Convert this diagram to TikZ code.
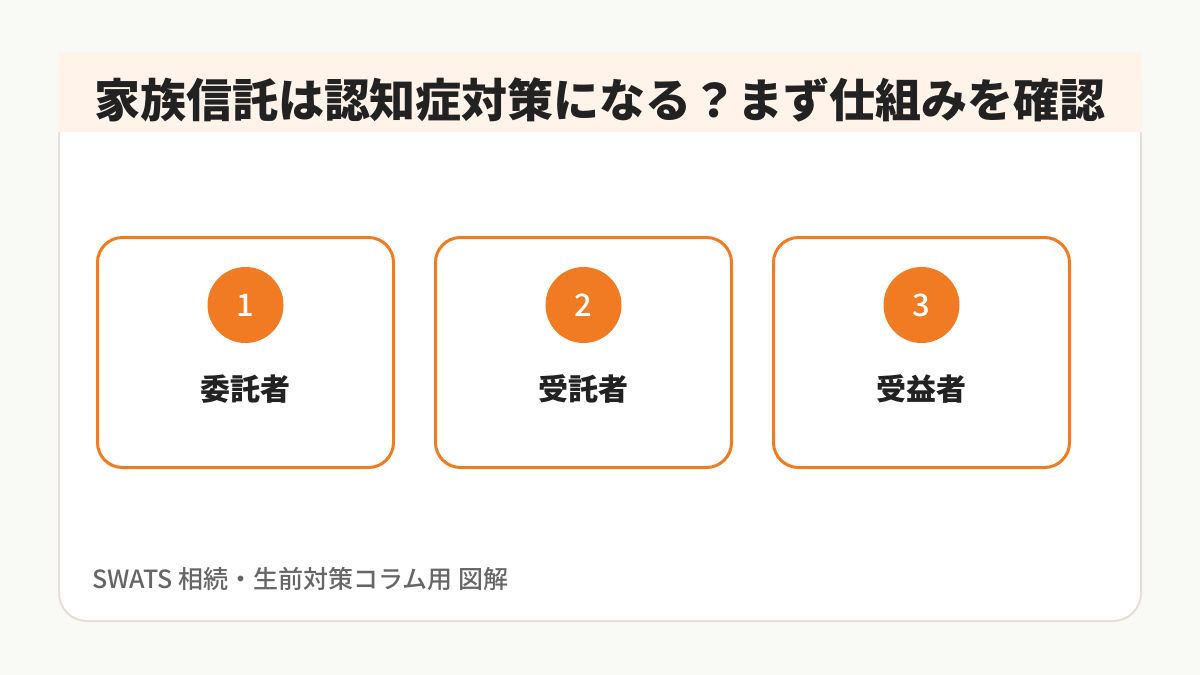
\documentclass[tikz,border=0pt]{standalone}
\usepackage{fontspec}
\setmainfont{Noto Sans CJK JP}
\newfontfamily\mediumfont{Noto Sans CJK JP Medium}
\usetikzlibrary{positioning}

\definecolor{pagebg}{HTML}{F9F9F5}
\definecolor{bandfill}{HTML}{FFF3EA}
\definecolor{cardline}{HTML}{E8E0D8}
\definecolor{swatsorange}{HTML}{F07B22}
\definecolor{inkdark}{HTML}{222222}
\definecolor{inkgray}{HTML}{666666}

\begin{document}
\begin{tikzpicture}[x=1pt, y=-1pt, node distance=42pt, every node/.style={outer sep=0pt, text=inkdark}]

\tikzstyle{rolebox} = [rectangle, rounded corners=25pt, minimum width=296pt, minimum height=230pt, draw=swatsorange, line width=3pt, fill=white]
\tikzstyle{numcircle} = [circle, minimum size=76pt, inner sep=0pt, fill=swatsorange, text=white, font=\mediumfont\fontsize{31}{33}\selectfont]
\tikzstyle{rolename} = [inner sep=0pt, font=\fontsize{30}{32}\selectfont\bfseries]

% Background and card
\useasboundingbox (0,0) rectangle (1200,675);
\fill[pagebg] (0,0) rectangle (1200,675);
\draw[cardline, line width=2pt, fill=white, rounded corners=28pt] (59,53) rectangle (1141,621);
\fill[bandfill] (58,52) rectangle (1142,132);

% Title
\node (title) at (600,100) {\fontsize{46}{50}\selectfont\bfseries 家族信託は認知症対策になる？まず仕組みを確認};

% Boxes
\node (box1) [rolebox] at (245.5,352.5) {};
\node (box2) [rolebox, right=of box1] {};
\node (box3) [rolebox, right=of box2] {};

% Numbers and names
\node (num1) [numcircle, below=29.5pt of box1.north] {1};
\node (num2) [numcircle, below=29.5pt of box2.north] {2};
\node (num3) [numcircle, below=29.5pt of box3.north] {3};
\node (name1) [rolename, below=32pt of num1] {委託者};
\node (name2) [rolename, below=32pt of num2] {受託者};
\node (name3) [rolename, below=32pt of num3] {受益者};

% Footer
\node (footer) [anchor=west, inner sep=0pt, text=inkgray, font=\mediumfont\fontsize{25}{27}\selectfont] at (92,579) {SWATS 相続・生前対策コラム用 図解};

\end{tikzpicture}
\end{document}
